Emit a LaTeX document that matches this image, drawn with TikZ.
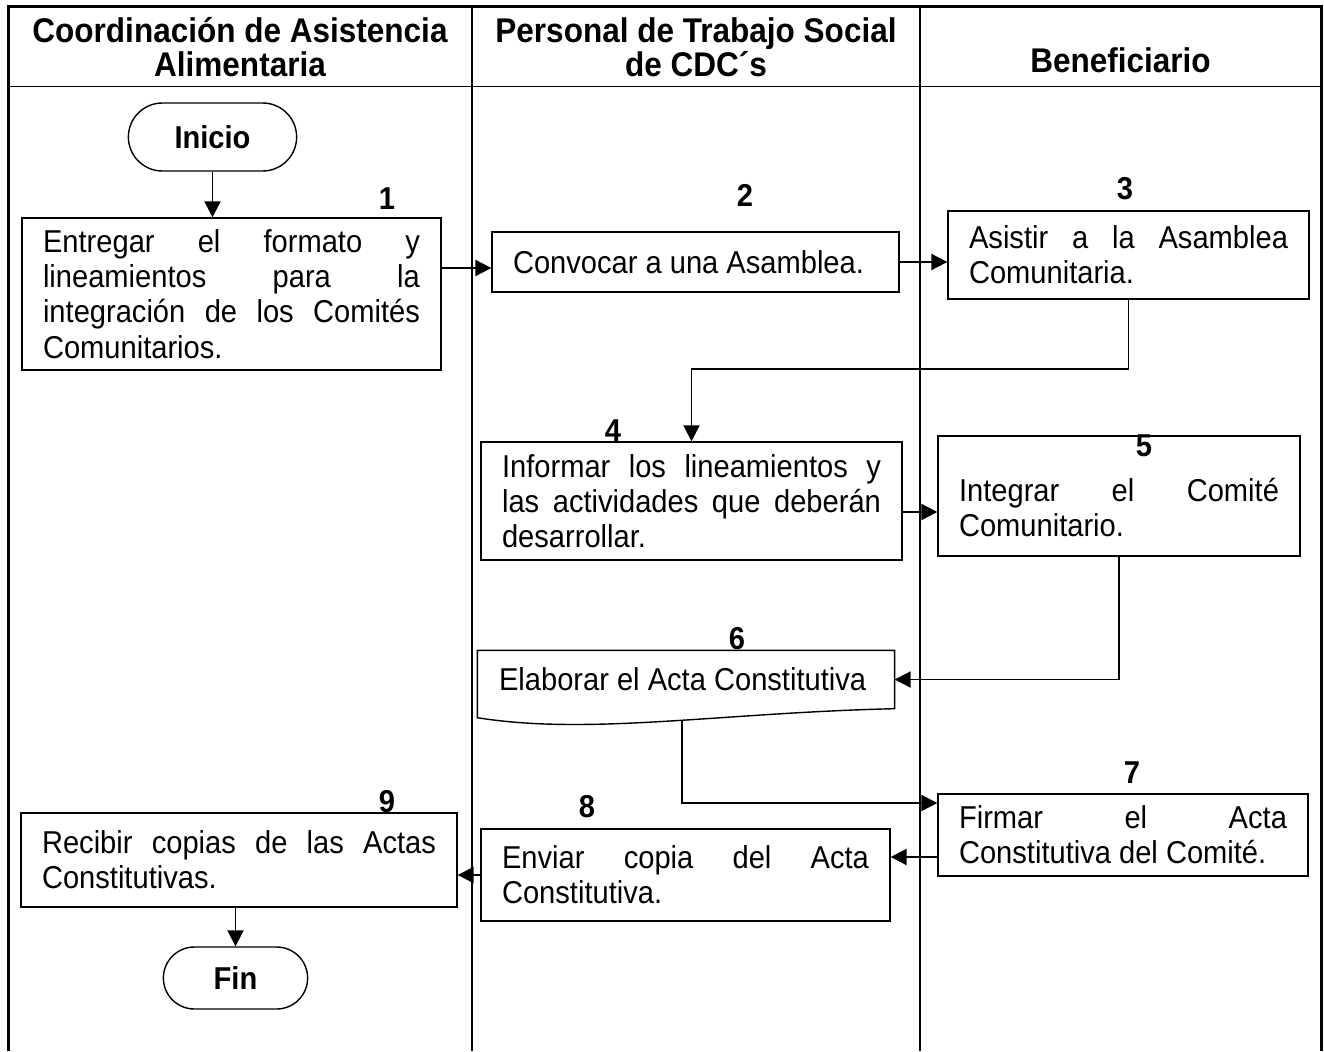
\documentclass[tikz,border=0pt]{standalone}
\usepackage{fontspec}
\setmainfont{Liberation Sans}[FakeStretch=0.92]
\usepackage{tikz}
\usetikzlibrary{arrows.meta}
\usetikzlibrary{shapes.misc}
\usetikzlibrary{positioning}
\hyphenpenalty=10000
\exhyphenpenalty=10000
\tolerance=9999
\tikzset{%
  caja/.style={
    draw,
    rectangle,
    line width=0.8pt,
    align=justify,
    inner xsep=0.42cm,
    inner ysep=0pt,
    font=\fontsize{18}{20}\selectfont
  },
  terminal/.style={
    draw,
    rounded rectangle,
    line width=0.8pt,
    font=\fontsize{18}{20}\selectfont\bfseries
  },
  num/.style={
    inner sep=0pt,
    font=\fontsize{18}{20}\selectfont\bfseries
  },
  encabezado/.style={
    inner sep=0pt,
    align=center,
    font=\fontsize{19.5}{19.5}\selectfont\bfseries
  },
  flecha/.style={
    line width=1.1pt,
    -{Triangle[length=0.32cm,width=0.32cm]}
  },
}

\begin{document}
\begin{tikzpicture}[x=0.02cm,y=-0.02cm]
    \useasboundingbox (0,0) rectangle (1324,1051);

    \draw [line width=1.7pt] (8.5,1051) -- (8.5,6.5) -- (1321,6.5) -- (1321,1051);
    \draw [line width=1.1pt] (8.5,86.5) -- (1321,86.5);
    \draw [line width=1.1pt] (472,6.5) -- (472,1051);
    \draw [line width=1.1pt] (920,6.5) -- (920,1051);

    \node (h1) [encabezado] at (240,47) {Coordinación de Asistencia\\Alimentaria};
    \node (h2) [encabezado] at (696,47) {Personal de Trabajo Social\\de CDC´s};
    \node (h3) [encabezado] at (1120.5,60) {Beneficiario};

    \node (inicio) [terminal,minimum width=3.6cm,minimum height=1.36cm] at (212.5,137) {Inicio};
    \node (n1) [caja,text width=7.54cm,minimum height=3.04cm] at (231.5,294)
    {Entregar el formato y lineamientos para la integración de los Comités Comunitarios.};
    \node (n2) [caja,text width=7.30cm,minimum height=1.2cm] at (695.5,262)
    {Convocar a una Asamblea.};
    \node (n3) [caja,text width=6.38cm,minimum height=1.76cm] at (1128.5,255)
    {Asistir a la Asamblea Comunitaria.};
    \node (n4) [caja,text width=7.58cm,minimum height=2.36cm] at (691.5,501)
    {Informar los lineamientos y las actividades que deberán desarrollar.};
    \node (n5) [caja,text width=6.40cm,minimum height=2.4cm,text height=0.2cm,text depth=0pt] at (1119,496)
    {Integrar el Comité Comunitario.};
    \node (n6) [caja,draw=none,text width=7.48cm,minimum height=1.14cm] at (686,679.5)
    {Elaborar el Acta Constitutiva};
    \draw [line width=0.8pt] (n6.north west) -- (n6.north east) -- (n6.south east)
        .. controls +(-174,4) and +(112,18) .. ([yshift=-0.18cm]n6.south west) -- cycle;
    \coordinate (n6b) at ([xshift=-0.08cm,yshift=-0.24cm]n6.south);
    \node (n7) [caja,text width=6.56cm,minimum height=1.64cm] at (1123,835)
    {Firmar el Acta Constitutiva del Comité.};
    \node (n8) [caja,text width=7.34cm,minimum height=1.84cm] at (685.5,875)
    {Enviar copia del Acta Constitutiva.};
    \node (n9) [caja,text width=7.88cm,minimum height=1.88cm] at (239,860)
    {Recibir copias de las Actas Constitutivas.};
    \node (fin) [terminal,minimum width=3.12cm,minimum height=1.24cm] at (235.5,978) {Fin};

    \node (k1) [num] at (387,199) {1};
    \node (k2) [num] at (745,195) {2};
    \node (k3) [num] at (1125,189) {3};
    \node (k4) [num] at (613,431) {4};
    \node (k5) [num] at (1144,446) {5};
    \node (k6) [num] at (737,639) {6};
    \node (k7) [num] at (1132,773) {7};
    \node (k8) [num] at (587,807) {8};
    \node (k9) [num] at (387,802) {9};

    \draw [flecha] (inicio.south) -- (inicio.south |- n1.north);
    \draw [flecha] ([yshift=-0.12cm]n2.west -| n1.east) -- ([yshift=-0.12cm]n2.west);
    \draw [flecha] (n2.east) -- (n2.east -| n3.west);
    \draw [flecha] (n3.south) -- ++(0,69) -| (n4.north);
    \draw [flecha] ([yshift=-0.22cm]n4.east) -- ([yshift=-0.22cm]n4.east -| n5.west);
    \draw [flecha] (n5.south) |- (n6.east);
    \draw [flecha] (n6b) |- ([yshift=0.64cm]n7.west);
    \draw [flecha] ([yshift=-0.44cm]n7.west) -- ([yshift=-0.44cm]n7.west -| n8.east);
    \draw [flecha] (n8.west) -- (n8.west -| n9.east);
    \draw [flecha] (fin.north |- n9.south) -- (fin.north);
\end{tikzpicture}
\end{document}
